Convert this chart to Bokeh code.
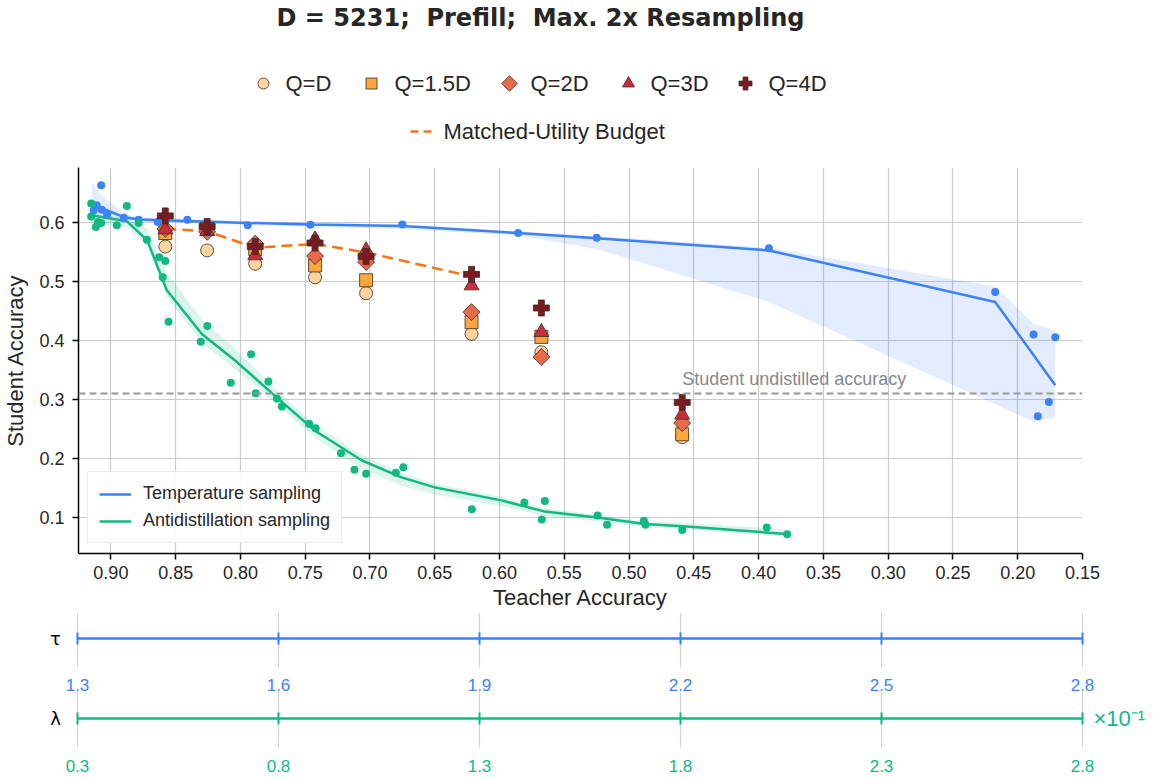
import numpy as np
from bokeh.plotting import figure
from bokeh.models import Range1d, FixedTicker, Span, Legend, LegendItem, PrintfTickFormatter
from bokeh.layouts import column
from bokeh.core.properties import value
from bokeh.embed import file_html
from bokeh.resources import INLINE

FONT = "Liberation Sans"
TITLE = "D = 5231;\u00a0\u00a0Prefill;\u00a0\u00a0Max. 2x Resampling"

x_ticks = [0.90, 0.85, 0.80, 0.75, 0.70, 0.65, 0.60, 0.55, 0.50, 0.45, 0.40, 0.35, 0.30, 0.25, 0.20, 0.15]
y_ticks = [0.1, 0.2, 0.3, 0.4, 0.5, 0.6]

# Temperature sampling (blue)
temp_x = [0.9133, 0.911, 0.9075, 0.907, 0.903, 0.890, 0.8786, 0.8638, 0.841, 0.7944, 0.746, 0.675,
          0.5857, 0.525, 0.392, 0.2174, 0.1878, 0.171, 0.176, 0.1845]
temp_y = [0.620, 0.629, 0.663, 0.6215, 0.6136, 0.608, 0.6046, 0.6005, 0.6046, 0.595, 0.596, 0.5966,
          0.582, 0.574, 0.556, 0.482, 0.410, 0.4056, 0.2955, 0.2717]
temp_line_x = [0.9147, 0.907, 0.890, 0.8786, 0.794, 0.746, 0.675, 0.586, 0.525, 0.392, 0.2174, 0.171]
temp_line_y = [0.632, 0.624, 0.609, 0.605, 0.599, 0.5966, 0.594, 0.582, 0.573, 0.5525, 0.465, 0.324]
temp_band_x = [0.9147, 0.907, 0.890, 0.879, 0.794, 0.746, 0.675, 0.586, 0.525, 0.392, 0.2174, 0.1875, 0.171]
temp_band_hi = [0.667, 0.645, 0.615, 0.609, 0.602, 0.600, 0.597, 0.585, 0.577, 0.557, 0.4915, 0.428, 0.417]
temp_band_lo = [0.612, 0.610, 0.604, 0.601, 0.596, 0.593, 0.589, 0.578, 0.555, 0.465, 0.292, 0.262, 0.270]

# Antidistillation sampling (green)
anti_x = [0.9152, 0.9152, 0.9116, 0.910, 0.9075, 0.8954, 0.8877, 0.8786, 0.8722, 0.8627, 0.858, 0.860,
          0.8555, 0.8306, 0.8255, 0.7918, 0.8075, 0.7784, 0.7882, 0.7718, 0.768, 0.747, 0.742,
          0.7224, 0.712, 0.703, 0.680, 0.6743, 0.6214, 0.5808, 0.565, 0.5674, 0.5243, 0.517,
          0.4886, 0.4873, 0.459, 0.3937, 0.378]
anti_y = [0.632, 0.610, 0.592, 0.6005, 0.599, 0.595, 0.6277, 0.599, 0.5707, 0.541, 0.5344, 0.507,
          0.4317, 0.3978, 0.4243, 0.3768, 0.3283, 0.3305, 0.3107, 0.3017, 0.288, 0.2588, 0.2513,
          0.209, 0.1808, 0.174, 0.1757, 0.1853, 0.114, 0.1254, 0.128, 0.0966, 0.1034, 0.0875,
          0.0944, 0.0875, 0.079, 0.083, 0.0717]
anti_line_x = [0.9152, 0.8877, 0.872, 0.8568, 0.8298, 0.8041, 0.7707, 0.7424, 0.7065, 0.6757, 0.65,
               0.5986, 0.565, 0.5216, 0.488, 0.4585, 0.378]
anti_line_y = [0.612, 0.602, 0.570, 0.485, 0.411, 0.366, 0.301, 0.247, 0.197, 0.168, 0.151,
               0.129, 0.110, 0.099, 0.089, 0.085, 0.072]
anti_band_hi = [0.616, 0.608, 0.590, 0.515, 0.436, 0.386, 0.313, 0.257, 0.207, 0.176, 0.157,
                0.135, 0.116, 0.104, 0.094, 0.091, 0.080]
anti_band_lo = [0.600, 0.592, 0.560, 0.473, 0.396, 0.351, 0.289, 0.235, 0.183, 0.154, 0.139,
                0.119, 0.102, 0.093, 0.084, 0.080, 0.068]

# Query budgets
teacher_acc = [0.858, 0.8257, 0.7886, 0.7424, 0.703, 0.6216, 0.5677, 0.459]
q_labels = ["Q=D", "Q=1.5D", "Q=2D", "Q=3D", "Q=4D"]
q_1 = [0.559, 0.5525, 0.530, 0.507, 0.480, 0.411, 0.380, 0.236]
q_15 = [0.582, 0.589, 0.555, 0.527, 0.502, 0.431, 0.406, 0.241]
q_2 = [0.589, 0.584, 0.564, 0.543, 0.533, 0.448, 0.372, 0.260]
q_3 = [0.588, 0.585, 0.544, 0.571, 0.5525, 0.493, 0.414, 0.274]
q_4 = [0.611, 0.593, 0.559, 0.565, 0.542, 0.512, 0.455, 0.295]
q_series = [q_1, q_15, q_2, q_3, q_4]
q_colors = ["#fdd49e", "#fca63c", "#e9694a", "#c92f38", "#7a1c1f"]
q_markers = ["circle", "square", "square", "triangle", "plus"]
q_angles = [0, 0, np.pi / 4, 0, 0]
q_sizes = [13, 13, 12, 15, 16]
q_leg_sizes = [11, 11, 11, 12, 13]

mu_label = "Matched-Utility Budget"
mu_x = [0.858, 0.8257, 0.7886, 0.7424, 0.703, 0.6216]
mu_y = [0.589, 0.585, 0.557, 0.5636, 0.549, 0.5085]

undistilled = 0.31
undistilled_label = "Student undistilled accuracy"

tau_ticks = [1.3, 1.6, 1.9, 2.2, 2.5, 2.8]
tau_labels = ["1.3", "1.6", "1.9", "2.2", "2.5", "2.8"]
lam_ticks = [0.3, 0.8, 1.3, 1.8, 2.3, 2.8]
lam_labels = ["0.3", "0.8", "1.3", "1.8", "2.3", "2.8"]

BLUE = "#3b82f6"
GREEN = "#10b981"
ORANGE = "#f97316"
TXT = "#262626"

W = 1158
LEFT, RIGHT = 77, 76          # frame borders (px)
FRAME_W = W - LEFT - RIGHT
TOP_B, FRAME_H, BOT_B = 5, 386, 59
HEAD_H = 162
MAIN_H = TOP_B + FRAME_H + BOT_B
PAR_H = 778 - HEAD_H - MAIN_H
PAR_TOP = HEAD_H + MAIN_H

# ---------------- header (title + top legends) ----------------
h = figure(width=W, height=HEAD_H, x_range=Range1d(0, W), y_range=Range1d(HEAD_H, 0),
           x_axis_type=None, y_axis_type=None, output_backend="svg", toolbar_location=None,
           min_border=0, frame_align=False)
h.outline_line_color = None
h.text(x=[540], y=[17], text=[TITLE], text_font=value("DejaVu Sans"), text_font_style="bold",
       text_font_size="24px", text_color=TXT, text_align="center", text_baseline="middle")
leg_mx = [263, 371, 509, 628, 745]
leg_tx = [285, 394, 530, 650, 768]
for mx, col, mk, ang, sz in zip(leg_mx, q_colors, q_markers, q_angles, q_leg_sizes):
    h.scatter([mx], [83], marker=mk, angle=ang, size=sz, fill_color=col,
              line_color="#3a2a2a", line_width=0.8)
h.text(x=leg_tx, y=83, text=q_labels, text_font=value(FONT), text_font_size="22px",
       text_color=TXT, text_align="left", text_baseline="middle")
h.segment(x0=[410], y0=131, x1=[434], y1=131, line_color=ORANGE, line_width=2.5, line_dash="8 5")
h.text(x=[443], y=[131], text=[mu_label], text_font=value(FONT), text_font_size="22px",
       text_color=TXT, text_align="left", text_baseline="middle")

# ---------------- main plot ----------------
p = figure(width=W, height=MAIN_H, x_range=Range1d(0.925, 0.15), y_range=Range1d(0.039, 0.693),
           output_backend="svg", toolbar_location=None,
           min_border_left=LEFT, min_border_right=RIGHT, min_border_top=TOP_B, min_border_bottom=BOT_B)
p.outline_line_color = None
p.xaxis.ticker = FixedTicker(ticks=x_ticks)
p.xaxis.formatter = PrintfTickFormatter(format="%.2f")
p.yaxis.ticker = FixedTicker(ticks=y_ticks)
p.yaxis.formatter = PrintfTickFormatter(format="%.1f")
p.grid.grid_line_color = "#cccccc"
p.grid.grid_line_width = 1.2
for ax in (p.xaxis[0], p.yaxis[0]):
    ax.axis_line_color = "black"
    ax.axis_line_width = 1.5
    ax.major_tick_out = 6
    ax.major_tick_in = 0
    ax.major_tick_line_width = 1.5
    ax.minor_tick_line_color = None
    ax.major_label_text_font = FONT
    ax.major_label_text_font_size = "18px"
    ax.major_label_text_color = TXT
    ax.major_label_standoff = 6
    ax.axis_label_text_font = FONT
    ax.axis_label_text_font_size = "22px"
    ax.axis_label_text_font_style = "normal"
    ax.axis_label_text_color = TXT
    ax.axis_label_standoff = 3
p.yaxis.major_label_standoff = 8
p.yaxis.axis_label_standoff = 8
p.xaxis.axis_label = "Teacher Accuracy"
p.yaxis.axis_label = "Student Accuracy"

p.add_layout(Span(location=undistilled, dimension="width", line_color="#999999",
                  line_width=2, line_dash="7 4"))
p.text(x=[0.459], y=[undistilled], text=[undistilled_label], y_offset=-15,
       text_font=value(FONT), text_font_size="18px", text_color="#888888",
       text_align="left", text_baseline="middle")

p.varea(x=temp_band_x, y1=temp_band_lo, y2=temp_band_hi, fill_color=BLUE, fill_alpha=0.15)
p.varea(x=anti_line_x, y1=anti_band_lo, y2=anti_band_hi, fill_color=GREEN, fill_alpha=0.15)
r_temp = p.line(temp_line_x, temp_line_y, line_color=BLUE, line_width=2.5)
r_anti = p.line(anti_line_x, anti_line_y, line_color=GREEN, line_width=2.5)
p.scatter(temp_x, temp_y, size=8, fill_color=BLUE, line_color=None)
p.scatter(anti_x, anti_y, size=8, fill_color=GREEN, line_color=None)

p.line(mu_x, mu_y, line_color=ORANGE, line_width=2.5, line_dash="11 6")

for ys, col, mk, ang, sz in zip(q_series, q_colors, q_markers, q_angles, q_sizes):
    p.scatter(teacher_acc, ys, marker=mk, angle=ang, size=sz, fill_color=col,
              line_color="#3a2a2a", line_width=0.8)

leg_in = Legend(items=[LegendItem(label="Temperature sampling", renderers=[r_temp]),
                       LegendItem(label="Antidistillation sampling", renderers=[r_anti])],
                location=(9, 10), padding=11, margin=0, spacing=6,
                glyph_width=32, glyph_height=20, label_height=20, label_standoff=12,
                label_text_font=FONT, label_text_font_size="18px", label_text_color=TXT,
                border_line_color="#d9d9d9", border_line_width=1,
                background_fill_color="white", background_fill_alpha=0.85)
p.add_layout(leg_in)

# ---------------- parameter axes (tau / lambda) ----------------
tau_span = tau_ticks[-1] - tau_ticks[0]
lam_span = lam_ticks[-1] - lam_ticks[0]
q = figure(width=W, height=PAR_H,
           x_range=Range1d(tau_ticks[0] - LEFT * tau_span / FRAME_W, tau_ticks[-1] + RIGHT * tau_span / FRAME_W),
           y_range=Range1d(PAR_TOP + PAR_H, PAR_TOP),
           x_axis_type=None, y_axis_type=None, output_backend="svg", toolbar_location=None,
           min_border=0, frame_align=False)
q.extra_x_ranges = {"lam": Range1d(lam_ticks[0] - LEFT * lam_span / FRAME_W,
                                   lam_ticks[-1] + RIGHT * lam_span / FRAME_W)}
q.outline_line_color = None

TAU_Y, LAM_Y = 638, 718
q.segment(x0=tau_ticks, y0=PAR_TOP, x1=tau_ticks, y1=667, line_color="#d4d4d4", line_width=1.2)
q.segment(x0=[tau_ticks[0]], y0=TAU_Y, x1=[tau_ticks[-1]], y1=TAU_Y, line_color=BLUE, line_width=2.5)
q.segment(x0=tau_ticks, y0=TAU_Y - 6, x1=tau_ticks, y1=TAU_Y + 6, line_color=BLUE, line_width=2)
q.text(x=tau_ticks, y=684, text=tau_labels, text_font=value(FONT), text_font_size="17px",
       text_color=BLUE, text_align="center", text_baseline="middle")
q.text(x=[tau_ticks[0]], y=TAU_Y, text=["τ"], x_offset=-22, text_font=value("DejaVu Sans"),
       text_font_size="18px", text_color="black", text_align="center", text_baseline="middle")

q.segment(x0=lam_ticks, y0=690, x1=lam_ticks, y1=747, line_color="#d4d4d4", line_width=1.2,
          x_range_name="lam")
q.segment(x0=[lam_ticks[0]], y0=LAM_Y, x1=[lam_ticks[-1]], y1=LAM_Y, line_color=GREEN, line_width=2.5,
          x_range_name="lam")
q.segment(x0=lam_ticks, y0=LAM_Y - 6, x1=lam_ticks, y1=LAM_Y + 6, line_color=GREEN, line_width=2,
          x_range_name="lam")
q.text(x=lam_ticks, y=765, text=lam_labels, text_font=value(FONT), text_font_size="17px",
       text_color=GREEN, text_align="center", text_baseline="middle", x_range_name="lam")
q.text(x=[lam_ticks[0]], y=LAM_Y, text=["λ"], x_offset=-22, text_font=value("DejaVu Sans"),
       text_font_size="18px", text_color="black", text_align="center", text_baseline="middle",
       x_range_name="lam")
q.text(x=[lam_ticks[-1]], y=LAM_Y, text=["×10⁻¹"], x_offset=11, text_font=value(FONT),
       text_font_size="22px", text_color=GREEN, text_align="left", text_baseline="middle",
       x_range_name="lam")

layout = column(h, p, q, spacing=0)
open("out.html", "w").write(file_html(layout, INLINE))
